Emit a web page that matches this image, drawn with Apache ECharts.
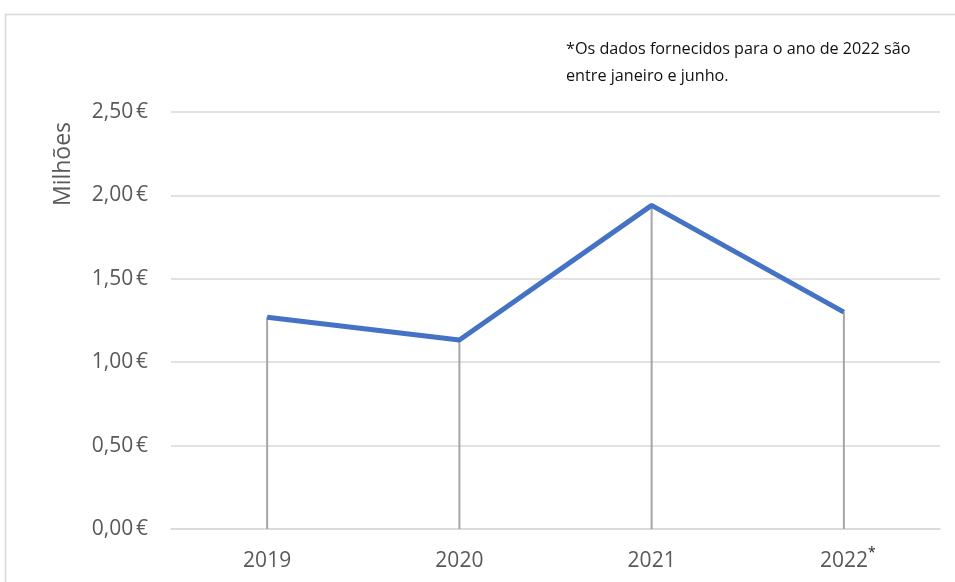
<!DOCTYPE html>
<html>
<head>
<meta charset="utf-8">
<script src="https://cdn.jsdelivr.net/npm/echarts@6/dist/echarts.min.js"></script>
<style>html,body{margin:0;padding:0;background:#fff}#c{width:955px;height:582px}</style>
</head>
<body>
<div id="c"></div>
<script>
const categories = ['2019', '2020', '2021', '2022'];
const values = [1.27, 1.133, 1.94, 1.30];
const yTicks = [0, 0.5, 1.0, 1.5, 2.0, 2.5];
const yName = 'Milhões';
const note = ['*Os dados fornecidos para o ano de 2022 são', 'entre janeiro e junho.'];

const chart = echarts.init(document.getElementById('c'));
const font = '"Open Sans", "Liberation Sans", sans-serif';
chart.setOption({
  animation: false,
  backgroundColor: '#fff',
  grid: {left: 171, right: 15, top: 112, bottom: 53},
  xAxis: {
    type: 'category',
    data: categories,
    boundaryGap: true,
    axisLine: {lineStyle: {color: '#d9d9d9', width: 1.5}},
    axisTick: {show: false},
    axisLabel: {
      margin: 17,
      fontFamily: font, fontSize: 21, color: '#595959',
      formatter: v => v === '2022' ? '{m|' + v + '}{s|*}' : '{n|' + v + '}',
      rich: {
        n: {fontFamily: font, fontSize: 21, color: '#595959', lineHeight: 30},
        m: {fontFamily: font, fontSize: 21, color: '#595959', lineHeight: 30, padding: [0, 0, 0, 8]},
        s: {fontFamily: font, fontSize: 14, color: '#222', lineHeight: 14, verticalAlign: 'top'}
      }
    }
  },
  yAxis: {
    type: 'value',
    min: yTicks[0], max: yTicks[yTicks.length - 1], interval: 0.5,
    axisLine: {show: false},
    axisTick: {show: false},
    splitLine: {lineStyle: {color: '#d9d9d9', width: 1.5}},
    axisLabel: {
      margin: 23,
      fontFamily: font, fontSize: 21, color: '#595959',
      formatter: v => v.toFixed(2).replace('.', ',') + '\u202f€'
    }
  },
  graphic: [
    {type: 'rect', shape: {x: 5.5, y: 14.5, width: 960, height: 600}, style: {fill: null, stroke: '#d9d9d9', lineWidth: 1.5}, silent: true},
    {type: 'text', x: 63, y: 164, rotation: Math.PI / 2,
      style: {text: yName, fontFamily: font, fontSize: 23, fill: '#595959', align: 'center', verticalAlign: 'middle'}},
    {type: 'text', x: 566, y: 35.5,
      style: {text: note.join('\n'), fontFamily: font, fontSize: 16.2, lineHeight: 27, fill: '#111'}}
  ],
  series: [
    {
      type: 'bar', data: values, barWidth: 2,
      itemStyle: {color: '#a6a6a6'}, z: 1, silent: true
    },
    {
      type: 'line', data: values, symbol: 'none',
      lineStyle: {color: '#4472c4', width: 5}, z: 3
    }
  ]
});
</script>
</body>
</html>
